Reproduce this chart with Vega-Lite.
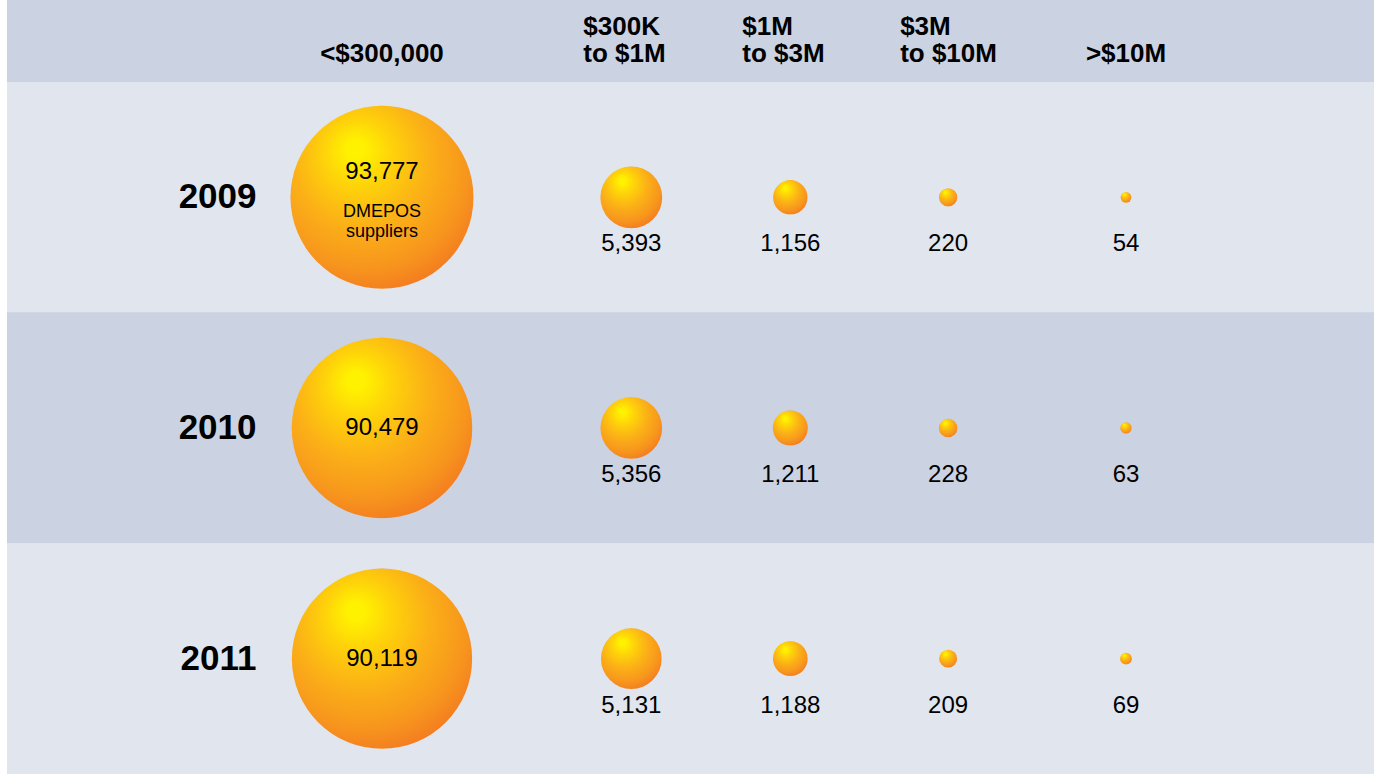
{
  "$schema": "https://vega.github.io/schema/vega-lite/v6.json",
  "padding": {"left": 7, "top": 0, "right": 0, "bottom": 0},
  "background": "white",
  "spacing": 0,
  "bounds": "flush",
  "config": {"view": {"stroke": null}, "font": "Liberation Sans", "concat": {"spacing": 0}},
  "datasets": {
    "counts": [
      {"year": "2009", "range": "<$300,000", "lower": 0, "suppliers": 93777, "note": "DMEPOS\nsuppliers"},
      {"year": "2009", "range": "$300K to $1M", "lower": 300, "suppliers": 5393},
      {"year": "2009", "range": "$1M to $3M", "lower": 1000, "suppliers": 1156},
      {"year": "2009", "range": "$3M to $10M", "lower": 3000, "suppliers": 220},
      {"year": "2009", "range": ">$10M", "lower": 10000, "suppliers": 54},
      {"year": "2010", "range": "<$300,000", "lower": 0, "suppliers": 90479},
      {"year": "2010", "range": "$300K to $1M", "lower": 300, "suppliers": 5356},
      {"year": "2010", "range": "$1M to $3M", "lower": 1000, "suppliers": 1211},
      {"year": "2010", "range": "$3M to $10M", "lower": 3000, "suppliers": 228},
      {"year": "2010", "range": ">$10M", "lower": 10000, "suppliers": 63},
      {"year": "2011", "range": "<$300,000", "lower": 0, "suppliers": 90119},
      {"year": "2011", "range": "$300K to $1M", "lower": 300, "suppliers": 5131},
      {"year": "2011", "range": "$1M to $3M", "lower": 1000, "suppliers": 1188},
      {"year": "2011", "range": "$3M to $10M", "lower": 3000, "suppliers": 209},
      {"year": "2011", "range": ">$10M", "lower": 10000, "suppliers": 69}
    ],
    "headers": [
      {"lower": 0, "label": "<$300,000"},
      {"lower": 300, "label": "$300K\nto $1M"},
      {"lower": 1000, "label": "$1M\nto $3M"},
      {"lower": 3000, "label": "$3M\nto $10M"},
      {"lower": 10000, "label": ">$10M"}
    ]
  },
  "vconcat": [
    {
      "width": 1367,
      "height": 82,
      "view": {"fill": "#cbd2e1", "stroke": null},
      "data": {"name": "headers"},
      "layer": [
        {
          "transform": [{"filter": "datum.lower == 0 || datum.lower == 10000"}],
          "mark": {"type": "text", "align": "center", "baseline": "alphabetic", "dy": 21, "fontSize": 26, "fontWeight": "bold", "lineBreak": "\n", "lineHeight": 27, "color": "#000000"},
          "encoding": {
            "x": {"field": "lower", "type": "quantitative", "scale": {"type": "symlog", "constant": 70, "domain": [0, 10000], "range": [375, 1119], "nice": false, "zero": false}, "axis": null},
            "text": {"field": "label", "type": "nominal"}
          }
        },
        {
          "transform": [{"filter": "datum.lower > 0 && datum.lower < 10000"}],
          "mark": {"type": "text", "align": "left", "dx": -48, "baseline": "alphabetic", "dy": -6, "fontSize": 26, "fontWeight": "bold", "lineBreak": "\n", "lineHeight": 27, "color": "#000000"},
          "encoding": {
            "x": {"field": "lower", "type": "quantitative", "scale": {"type": "symlog", "constant": 70, "domain": [0, 10000], "range": [375, 1119], "nice": false, "zero": false}, "axis": null},
            "text": {"field": "label", "type": "nominal"}
          }
        }
      ]
    },
    {
      "width": 1367,
      "height": 692,
      "data": {"name": "counts"},
      "encoding": {
        "y": {
          "field": "year", "type": "nominal",
          "scale": {"domain": ["2009", "2010", "2011"], "paddingInner": 0, "paddingOuter": 0},
          "axis": {"orient": "left", "offset": -249, "domain": false, "ticks": false, "tickSize": 0, "labelPadding": 0, "labelFont": "Liberation Sans", "labelFontSize": 35, "labelFontWeight": "bold", "labelColor": "#000000", "labelAlign": "right", "labelBaseline": "middle", "title": null, "grid": false, "zindex": 1}
        }
      },
      "layer": [
        {
          "mark": {"type": "rect"},
          "encoding": {
            "color": {"field": "year", "type": "nominal", "scale": {"domain": ["2009", "2010", "2011"], "range": ["#e1e5ee", "#cbd2e1", "#e1e5ee"]}, "legend": null}
          }
        },
        {
          "mark": {
            "type": "circle", "opacity": 1, "stroke": null,
            "fill": {"gradient": "radial", "x1": 0.35, "y1": 0.23, "r1": 0, "x2": 0.42, "y2": 0.35, "r2": 0.75,
              "stops": [
                {"offset": 0, "color": "#fff200"},
                {"offset": 0.06, "color": "#fff200"},
                {"offset": 0.25, "color": "#fed20a"},
                {"offset": 0.5, "color": "#fbb017"},
                {"offset": 0.75, "color": "#f7961d"},
                {"offset": 0.9, "color": "#f47f20"},
                {"offset": 1, "color": "#f05a24"}
              ]}
          },
          "encoding": {
            "x": {"field": "lower", "type": "quantitative", "scale": {"type": "symlog", "constant": 70, "domain": [0, 10000], "range": [375, 1119], "nice": false, "zero": false}, "axis": null},
            "size": {"field": "suppliers", "type": "quantitative", "scale": {"type": "pow", "exponent": 0.76, "domain": [0, 93777], "range": [0, 33489]}, "legend": null}
          }
        },
        {
          "transform": [{"filter": "datum.lower == 0 && datum.year != '2009'"}],
          "mark": {"type": "text", "align": "center", "baseline": "middle", "fontSize": 24, "color": "#000000"},
          "encoding": {
            "x": {"field": "lower", "type": "quantitative"},
            "text": {"field": "suppliers", "type": "quantitative", "format": ",d"}
          }
        },
        {
          "transform": [{"filter": "datum.lower == 0 && datum.year == '2009'"}],
          "mark": {"type": "text", "align": "center", "baseline": "middle", "fontSize": 24, "dy": -25, "color": "#000000"},
          "encoding": {
            "x": {"field": "lower", "type": "quantitative"},
            "text": {"field": "suppliers", "type": "quantitative", "format": ",d"}
          }
        },
        {
          "transform": [{"filter": "datum.lower == 0 && datum.year == '2009'"}],
          "mark": {"type": "text", "align": "center", "baseline": "middle", "fontSize": 18, "dy": 15, "lineBreak": "\n", "lineHeight": 20, "color": "#000000"},
          "encoding": {
            "x": {"field": "lower", "type": "quantitative"},
            "text": {"field": "note", "type": "nominal"}
          }
        },
        {
          "transform": [{"filter": "datum.lower > 0"}],
          "mark": {"type": "text", "align": "center", "baseline": "middle", "fontSize": 24, "dy": 47, "color": "#000000"},
          "encoding": {
            "x": {"field": "lower", "type": "quantitative"},
            "text": {"field": "suppliers", "type": "quantitative", "format": ",d"}
          }
        }
      ]
    }
  ]
}
